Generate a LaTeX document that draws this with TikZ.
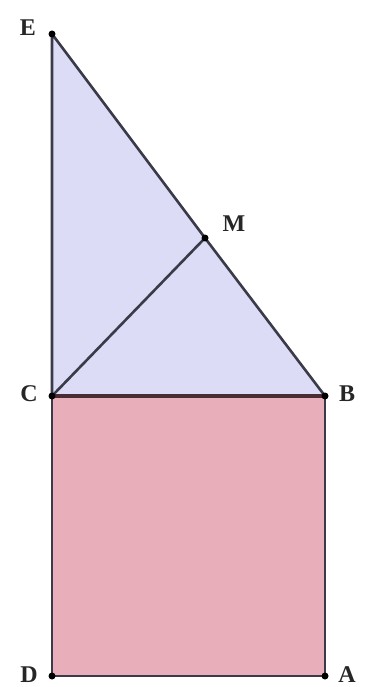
\documentclass[tikz,border=0pt]{standalone}
\usepackage{fontspec}
\setmainfont{Liberation Serif}
\definecolor{trifill}{HTML}{DCDCF6}
\definecolor{sqfill}{HTML}{E8AEB9}
\definecolor{edge}{HTML}{3A3A48}
\definecolor{cbedge}{HTML}{4A2C34}
\begin{document}
\begin{tikzpicture}[x=1pt,y=-1pt,
  edgeline/.style={draw=edge,line width=2.6pt,line join=round},
  pt/.style={circle,fill=black,inner sep=0pt,minimum size=7pt},
  lbl/.style={font=\fontsize{24}{24}\selectfont\bfseries,text=black!85,inner sep=0pt}]
\useasboundingbox (0,0) rectangle (364,687);
\coordinate (E) at (52,34);
\coordinate (M) at (205,238);
\coordinate (C) at (52,396);
\coordinate (B) at (325,396);
\coordinate (D) at (52,676);
\coordinate (A) at (325,676);
\fill[sqfill] (C) -- (B) -- (A) -- (D) -- cycle;
\fill[trifill] (E) -- (B) -- (C) -- cycle;
\draw[edgeline] (C) -- (D) -- (A) -- (B);
\draw[edgeline] (C) -- (E) -- (M) -- (B);
\draw[edgeline] (C) -- (M);
\draw[draw=cbedge,line width=3.2pt] (C) -- (B);
\foreach \p in {E,M,C,B,D,A} \node[pt] (p\p) at (\p) {};
\node[lbl] (lE) at (28,28) {E};
\node[lbl] (lM) at (234,224) {M};
\node[lbl] (lC) at (29,394) {C};
\node[lbl] (lB) at (347,394) {B};
\node[lbl] (lD) at (29,675) {D};
\node[lbl] (lA) at (347,675) {A};
\end{tikzpicture}
\end{document}
